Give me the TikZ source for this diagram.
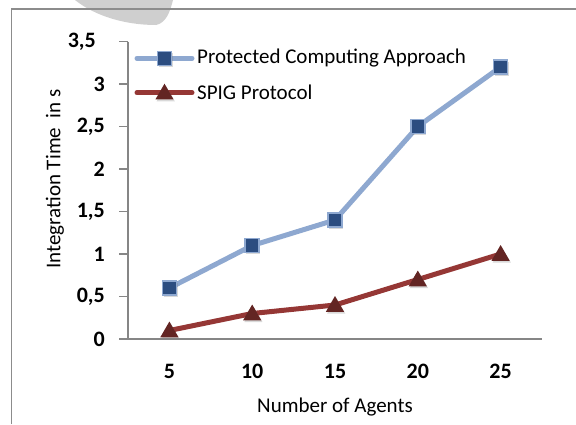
\documentclass[tikz,border=0pt]{standalone}
\usepackage{fontspec}
\setmainfont{Carlito}
\usetikzlibrary{shapes.geometric,shadows}
\definecolor{bline}{HTML}{8EA8D0}
\definecolor{bmark}{HTML}{2C4D80}
\definecolor{rline}{HTML}{953735}
\definecolor{rmark}{HTML}{632523}
\definecolor{axisgray}{HTML}{868686}
\definecolor{framegray}{HTML}{8C8C8C}
\definecolor{wmgray}{HTML}{CFCFCF}
\tikzset{
  sqmark/.style={rectangle, minimum size=14pt, inner sep=0pt, fill=bmark, draw=bline, line width=1.6pt,
    drop shadow={shadow xshift=1.2pt, shadow yshift=-1.8pt, opacity=.3}},
  trimark/.style={regular polygon, regular polygon sides=3, minimum size=21pt, inner sep=0pt, fill=rmark,
    yshift=-1.5pt, drop shadow={shadow xshift=1.2pt, shadow yshift=-1.8pt, opacity=.3}},
  bseries/.style={draw=bline, line width=5pt, line join=round},
  rseries/.style={draw=rline, line width=5pt, line join=round},
  axisline/.style={draw=axisgray, line width=1.1pt},
  ticklab/.style={font=\fontsize{22}{22}\selectfont\bfseries, inner sep=0pt},
  txt/.style={font=\fontsize{21}{24}\selectfont, inner sep=0pt},
}
\begin{document}
\begin{tikzpicture}[x=1pt,y=-1pt]
\useasboundingbox (0,0) rectangle (576,424);
% watermark blob and frame
\fill[wmgray] (75,0) .. controls (95,16) and (125,25) .. (156,25) .. controls (166,23) and (170,12) .. (173,0) -- cycle;
\draw[framegray, line width=1.5pt] (11.5,424) -- (11.5,9) -- (576,9);
% axes
\coordinate (o) at (128,339);
\coordinate (ytop) at (128,41.5);
\coordinate (xl) at (119,339);
\coordinate (xr) at (542,339);
\draw[axisline] (ytop) -- (o);
\draw[axisline] (xl) -- (xr);
\foreach \v [count=\i] in {0.5,1,1.5,2,2.5,3,3.5}{
  \coordinate (ta\i) at (119,{339-85*\v});
  \coordinate (tb\i) at (128,{339-85*\v});
  \draw[axisline] (ta\i) -- (tb\i);
}
% y tick labels
\node[ticklab, anchor=east] (y0) at (105,339) {0};
\node[ticklab, anchor=east] (y05) at (105,296.5) {0,5};
\node[ticklab, anchor=east] (y1) at (105,254) {1};
\node[ticklab, anchor=east] (y15) at (105,211.5) {1,5};
\node[ticklab, anchor=east] (y2) at (105,169) {2};
\node[ticklab, anchor=east] (y25) at (105,126.5) {2,5};
\node[ticklab, anchor=east] (y3) at (105,84) {3};
\node[ticklab, anchor=east] (y35) at (96,41.5) {3,5};
% x tick labels
\node[ticklab] (x5) at (169.4,371) {5};
\node[ticklab] (x10) at (252.2,371) {10};
\node[ticklab] (x15) at (335,371) {15};
\node[ticklab] (x20) at (417.8,371) {20};
\node[ticklab] (x25) at (500.6,371) {25};
% axis titles
\node[txt] (xt) at (335,407) {Number of Agents};
\node[txt, rotate=90] (yt) at (55,179) {Integration Time~ in s};
% data points
\coordinate (b1) at (169.4,288);
\coordinate (b2) at (252.2,245.5);
\coordinate (b3) at (335,220);
\coordinate (b4) at (417.8,126.5);
\coordinate (b5) at (500.6,67);
\coordinate (r1) at (169.4,330.5);
\coordinate (r2) at (252.2,313.5);
\coordinate (r3) at (335,305);
\coordinate (r4) at (417.8,279.5);
\coordinate (r5) at (500.6,254);
\draw[bseries] (b1) -- (b2) -- (b3) -- (b4) -- (b5);
\draw[rseries] (r1) -- (r2) -- (r3) -- (r4) -- (r5);
\foreach \i in {1,...,5}{
  \node[sqmark] (bm\i) at (b\i) {};
  \node[trimark] (rm\i) at (r\i) {};
}
% legend
\coordinate (lb1) at (137,58.3);
\coordinate (lb2) at (192,58.3);
\coordinate (lr1) at (137,92.7);
\coordinate (lr2) at (192,92.7);
\draw[bseries, line cap=round] (lb1) -- (lb2);
\draw[rseries, line cap=round] (lr1) -- (lr2);
\node[sqmark] (lbm) at (164.5,58.3) {};
\node[trimark] (lrm) at (164.5,92.7) {};
\node[txt, anchor=west] (lbt) at (197,58.3) {Protected Computing Approach};
\node[txt, anchor=west] (lrt) at (197,92.7) {SPIG Protocol};
\end{tikzpicture}
\end{document}
